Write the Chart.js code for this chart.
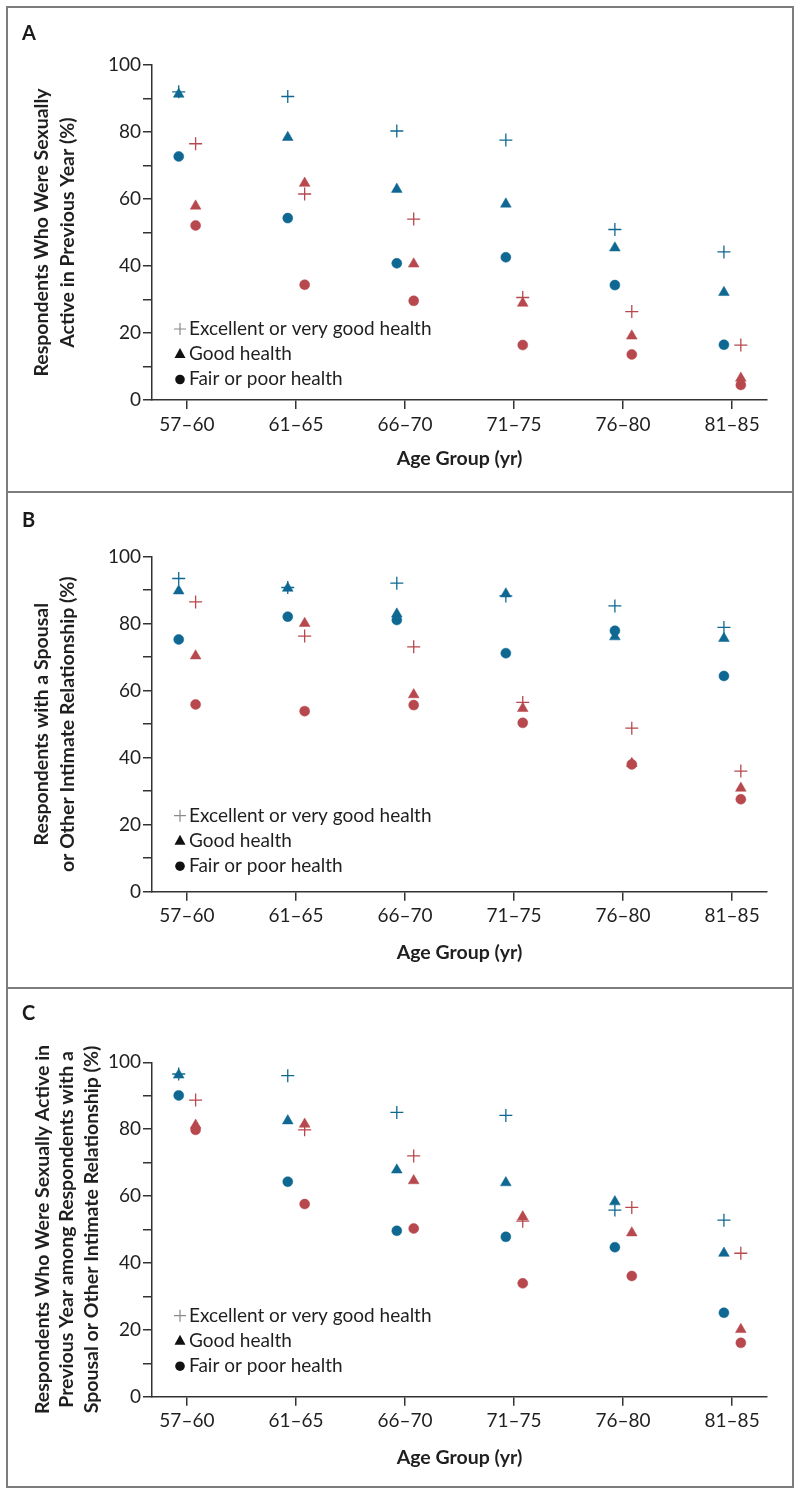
<!DOCTYPE html>
<html>
<head>
<meta charset="utf-8">
<script src="https://cdn.jsdelivr.net/npm/chart.js"></script>
<style>
  html, body { margin: 0; padding: 0; background: #fff; }
  #page { position: relative; width: 800px; height: 1493px; font-family: Lato, sans-serif; }
  .panel { position: absolute; left: 6px; width: 788px; box-sizing: border-box; border: 2px solid #7d7d7d; background: #fff; }
  .panel canvas { display: block; }
  .letter { position: absolute; left: 14px; font: bold 20px/1 Lato, sans-serif; color: #1a1a1a; }
</style>
</head>
<body>
<div id="page">
  <div class="panel" id="panelA" style="top:6px;height:487px"><canvas id="chartA" width="784" height="483"></canvas><div class="letter" style="top:14px">A</div></div>
  <div class="panel" id="panelB" style="top:491px;height:498px"><canvas id="chartB" width="784" height="494"></canvas><div class="letter" style="top:16px">B</div></div>
  <div class="panel" id="panelC" style="top:987px;height:501px"><canvas id="chartC" width="784" height="497"></canvas><div class="letter" style="top:13px">C</div></div>
</div>
<script>
// categorias (eixo x)
const ageGroups = ['57–60', '61–65', '66–70', '71–75', '76–80', '81–85'];
const legendLabels = ['Excellent or very good health', 'Good health', 'Fair or poor health'];

// Painel A: sexualmente ativos no ano anterior (%)
const aBlueExcellent = [92.0, 90.6, 80.3, 77.6, 50.9, 44.2];
const aBlueGood      = [91.3, 78.4, 62.9, 58.5, 45.4, 32.1];
const aBlueFair      = [72.7, 54.3, 40.8, 42.6, 34.3, 16.5];
const aRedExcellent  = [76.5, 61.5, 54.0, 30.6, 26.4, 16.4];
const aRedGood       = [57.9, 64.7, 40.6, 28.9, 19.1, 6.5];
const aRedFair       = [52.1, 34.4, 29.6, 16.4, 13.6, 4.5];

// Painel B: com relacionamento conjugal ou íntimo (%)
const bBlueExcellent = [93.5, 90.8, 92.1, 88.3, 85.3, 78.9];
const bBlueGood      = [89.8, 90.6, 82.9, 88.9, 76.1, 75.6];
const bBlueFair      = [75.3, 82.1, 81.1, 71.2, 77.9, 64.4];
const bRedExcellent  = [86.5, 76.3, 73.1, 56.5, 48.8, 36.0];
const bRedGood       = [70.4, 80.1, 58.8, 54.7, 38.3, 30.9];
const bRedFair       = [55.9, 53.9, 55.7, 50.4, 38.0, 27.6];

// Painel C: sexualmente ativos entre os que têm relacionamento (%)
const cBlueExcellent = [96.5, 96.0, 85.0, 84.1, 55.8, 52.8];
const cBlueGood      = [96.2, 82.5, 67.8, 64.0, 58.3, 42.9];
const cBlueFair      = [90.1, 64.3, 49.6, 47.8, 44.7, 25.1];
const cRedExcellent  = [88.7, 79.8, 72.0, 52.5, 56.6, 42.9];
const cRedGood       = [81.2, 81.5, 64.6, 53.8, 49.0, 20.1];
const cRedFair       = [79.8, 57.6, 50.3, 33.9, 36.1, 16.1];

const yTicks = [0, 20, 40, 60, 80, 100];

const BLUE = '#0f6892';
const RED = '#b6484e';
const AXIS = '#333333';
const TEXT = '#1f1f1f';

Chart.defaults.font.family = 'Lato, sans-serif';
Chart.defaults.color = TEXT;

// monta um dataset a partir de um array de valores
function series(values, color, style, dx) {
    const isCross = style === 'cross';
    return {
        data: values.map((v, i) => ({ x: i + dx, y: v })),
        pointStyle: style,
        pointRadius: isCross ? 6.5 : (style === 'triangle' ? 6.2 : 5),
        pointBorderWidth: isCross ? 1.3 : 0.5,
        pointBorderColor: color,
        pointBackgroundColor: color,
        showLine: false
    };
}

// legenda desenhada dentro da área do gráfico (canto inferior esquerdo)
const healthKey = {
    id: 'healthKey',
    afterDatasetsDraw(chart, args, opts) {
        const ctx = chart.ctx;
        const area = chart.chartArea;
        const x = area.left + opts.dx;
        ctx.save();
        ctx.font = '19px Lato, sans-serif';
        ctx.textBaseline = 'middle';
        legendLabels.forEach((label, i) => {
            const y = area.bottom + opts.dy + i * opts.gap;
            if (i === 0) {
                ctx.strokeStyle = '#8a8a8a';
                ctx.lineWidth = 1.2;
                ctx.beginPath();
                ctx.moveTo(x - 6, y); ctx.lineTo(x + 6, y);
                ctx.moveTo(x, y - 6); ctx.lineTo(x, y + 6);
                ctx.stroke();
            } else if (i === 1) {
                ctx.fillStyle = '#111';
                ctx.beginPath();
                ctx.moveTo(x, y - 6); ctx.lineTo(x + 5.5, y + 4); ctx.lineTo(x - 5.5, y + 4);
                ctx.closePath();
                ctx.fill();
            } else {
                ctx.fillStyle = '#111';
                ctx.beginPath();
                ctx.arc(x, y + 0.5, 4.8, 0, Math.PI * 2);
                ctx.fill();
            }
            ctx.fillStyle = TEXT;
            ctx.fillText(label, x + 9, y);
        });
        ctx.restore();
    }
};

function makePanel(canvasId, values, yTitle, layout) {
    const [blueEx, blueGood, blueFair, redEx, redGood, redFair] = values;
    const canvas = document.getElementById(canvasId);
    const H = canvas.height;
    new Chart(canvas, {
        type: 'scatter',
        data: {
            datasets: [
                series(blueFair, BLUE, 'circle', -0.075),
                series(blueGood, BLUE, 'triangle', -0.075),
                series(blueEx, BLUE, 'cross', -0.075),
                series(redFair, RED, 'circle', 0.08),
                series(redGood, RED, 'triangle', 0.08),
                series(redEx, RED, 'cross', 0.08)
            ]
        },
        options: {
            responsive: false,
            animation: false,
            devicePixelRatio: 1,
            layout: { padding: { left: 0, top: layout.top, right: 25, bottom: 0 } },
            plugins: {
                legend: { display: false },
                tooltip: { enabled: false },
                healthKey: layout.key
            },
            scales: {
                x: {
                    type: 'linear',
                    min: -0.32,
                    max: 5.32,
                    afterFit(s) { s.height = H - layout.bottom; },
                    border: { display: true, color: AXIS, width: 1.5 },
                    grid: { drawOnChartArea: false, drawTicks: true, tickLength: 9, color: AXIS, lineWidth: 1.5 },
                    ticks: {
                        stepSize: 1,
                        includeBounds: false,
                        autoSkip: false,
                        maxRotation: 0,
                        padding: 4,
                        font: { size: 19 },
                        color: TEXT,
                        callback: v => ageGroups[v]
                    },
                    title: {
                        display: true,
                        text: 'Age Group (yr)',
                        color: TEXT,
                        font: { size: 19.5, weight: 'bold' },
                        padding: { top: 0, bottom: layout.xTitlePad }
                    }
                },
                y: {
                    min: 0,
                    max: 100,
                    afterFit(s) { s.width = 144; },
                    border: { display: true, color: AXIS, width: 1.5 },
                    grid: { drawOnChartArea: false, drawTicks: true, tickLength: 9, color: AXIS, lineWidth: 1.5 },
                    ticks: {
                        stepSize: 10,
                        padding: 2,
                        font: { size: 19 },
                        color: TEXT,
                        callback: v => (yTicks.includes(v) ? String(v) : '')
                    },
                    title: {
                        display: true,
                        text: yTitle,
                        color: TEXT,
                        font: { size: 19.5, weight: 'bold', lineHeight: layout.titleLine },
                        padding: { top: layout.yTitlePad, bottom: 0 }
                    }
                }
            }
        },
        plugins: [healthKey]
    });
}

makePanel('chartA',
    [aBlueExcellent, aBlueGood, aBlueFair, aRedExcellent, aRedGood, aRedFair],
    ['Respondents Who Were Sexually', 'Active in Previous Year (%)'],
    { top: 57, bottom: 392, xTitlePad: 21, yTitlePad: 21, titleLine: '26px', key: { dx: 28, dy: -71, gap: 25 } });

makePanel('chartB',
    [bBlueExcellent, bBlueGood, bBlueFair, bRedExcellent, bRedGood, bRedFair],
    ['Respondents with a Spousal', 'or Other Intimate Relationship (%)'],
    { top: 63.7, bottom: 398.7, xTitlePad: 23, yTitlePad: 21, titleLine: '26px', key: { dx: 28, dy: -76, gap: 25 } });

makePanel('chartC',
    [cBlueExcellent, cBlueGood, cBlueFair, cRedExcellent, cRedGood, cRedFair],
    ['Respondents Who Were Sexually Active in', 'Previous Year among Respondents with a', 'Spousal or Other Intimate Relationship (%)'],
    { top: 73.3, bottom: 407.7, xTitlePad: 17, yTitlePad: 22, titleLine: '24.5px', key: { dx: 28, dy: -81, gap: 25 } });
</script>
</body>
</html>
